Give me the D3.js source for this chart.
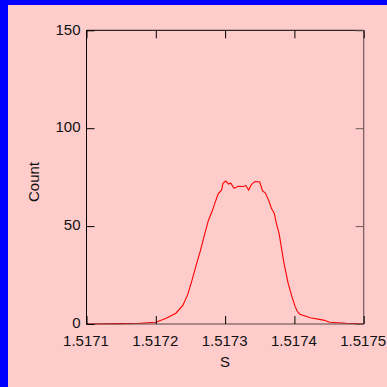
<!DOCTYPE html>
<html><head><meta charset="utf-8">
<script src="https://cdn.jsdelivr.net/npm/d3@7"></script>
<style>html,body{margin:0;padding:0;background:#ffcccc;overflow:hidden}</style>
</head><body>
<script>
const sValues = [1.51710,1.517148,1.517177,1.517200,1.517215,1.517229,1.517239,1.517246,1.517252,1.517259,1.517264,1.517271,1.517276,1.517281,1.517285,1.517290,1.517295,1.517297,1.517301,1.517305,1.517308,1.517313,1.517319,1.517326,1.517330,1.517334,1.517338,1.517343,1.517350,1.517354,1.517358,1.517363,1.517367,1.517371,1.517374,1.517378,1.517381,1.517385,1.517391,1.517396,1.517401,1.517404,1.517408,1.517423,1.517442,1.517451,1.517475,1.517500];
const counts  = [0,0.2,0.4,0.9,2.9,5.5,9.5,15,22,31,37,46.5,53,57.3,61.5,66.5,68.5,71.8,73,71.5,72,69.3,70.3,70.2,70.7,68.4,71.2,72.8,72.5,68,67,63,59,56.5,51.4,46,39.5,31,20.8,14.5,9,6.5,5,3.2,2,0.9,0.35,0];
const xTicks = [1.5171,1.5172,1.5173,1.5174,1.5175];
const yTicks = [0,50,100,150];
const xLabel = "S", yLabel = "Count";

const W=387,H=387;
const L=86.5,R=363.7,T=30.3,B=324;
const svg=d3.select("body").append("svg").attr("width",W).attr("height",H);
svg.append("rect").attr("width",W).attr("height",H).attr("fill","#0000ff");
svg.append("rect").attr("x",8).attr("y",5).attr("width",W-8).attr("height",H-5).attr("fill","#ffcccc");

const x=d3.scaleLinear().domain([1.5171,1.5175]).range([L,R]);
const y=d3.scaleLinear().domain([0,150]).range([B,T]);
const font="Liberation Sans, Arial, sans-serif";

// curve
const data=sValues.map((s,i)=>[s,counts[i]]);
svg.append("path").datum(data)
  .attr("d",d3.line().x(d=>x(d[0])).y(d=>y(d[1])))
  .attr("fill","none").attr("stroke","#ff0000").attr("stroke-width",1.1);

// frame
const g=svg.append("g");
g.append("line").attr("x1",L).attr("x2",R).attr("y1",T).attr("y2",T).attr("stroke","#000");
g.append("line").attr("x1",L).attr("x2",L).attr("y1",T).attr("y2",B).attr("stroke","#000");
g.append("line").attr("x1",R).attr("x2",R).attr("y1",T).attr("y2",B).attr("stroke","#705a5a").attr("stroke-width",1.2);
g.append("line").attr("x1",L).attr("x2",R).attr("y1",B).attr("y2",B).attr("stroke","#5a4545").attr("stroke-width",1.2);

// axes with inside ticks
const axB=d3.axisBottom(x).tickValues(xTicks).tickSizeInner(-8).tickSizeOuter(0).tickPadding(11).tickFormat(d3.format(".4f"));
const gb=svg.append("g").attr("transform",`translate(0,${B})`).call(axB);
const axT=d3.axisTop(x).tickValues(xTicks).tickSizeInner(-8).tickSizeOuter(0).tickFormat("");
const gt=svg.append("g").attr("transform",`translate(0,${T})`).call(axT);
const axL=d3.axisLeft(y).tickValues(yTicks).tickSizeInner(-8).tickSizeOuter(0).tickPadding(6).tickFormat(d3.format("d"));
const gl=svg.append("g").attr("transform",`translate(${L},0)`).call(axL);
const axR=d3.axisRight(y).tickValues(yTicks).tickSizeInner(-8).tickSizeOuter(0).tickFormat("");
const gr=svg.append("g").attr("transform",`translate(${R},0)`).call(axR);
[gb,gt,gl,gr].forEach(a=>{a.select(".domain").remove();a.selectAll("line").attr("stroke","#000");
  a.selectAll("text").attr("font-family",font).attr("font-size",15).attr("fill","#111");});
gr.selectAll("line").attr("stroke","#6a5a5a");
gb.selectAll("text").attr("dy","0.71em").attr("dx",-1);
gl.selectAll("text").attr("dy","0.25em");

svg.append("text").attr("x",225).attr("y",367).attr("text-anchor","middle")
  .attr("font-family",font).attr("font-size",15).attr("fill","#111").text(xLabel);
svg.append("text").attr("transform","translate(39,182) rotate(-90)").attr("text-anchor","middle")
  .attr("font-family",font).attr("font-size",15).attr("fill","#111").text(yLabel);
</script>
</body></html>
